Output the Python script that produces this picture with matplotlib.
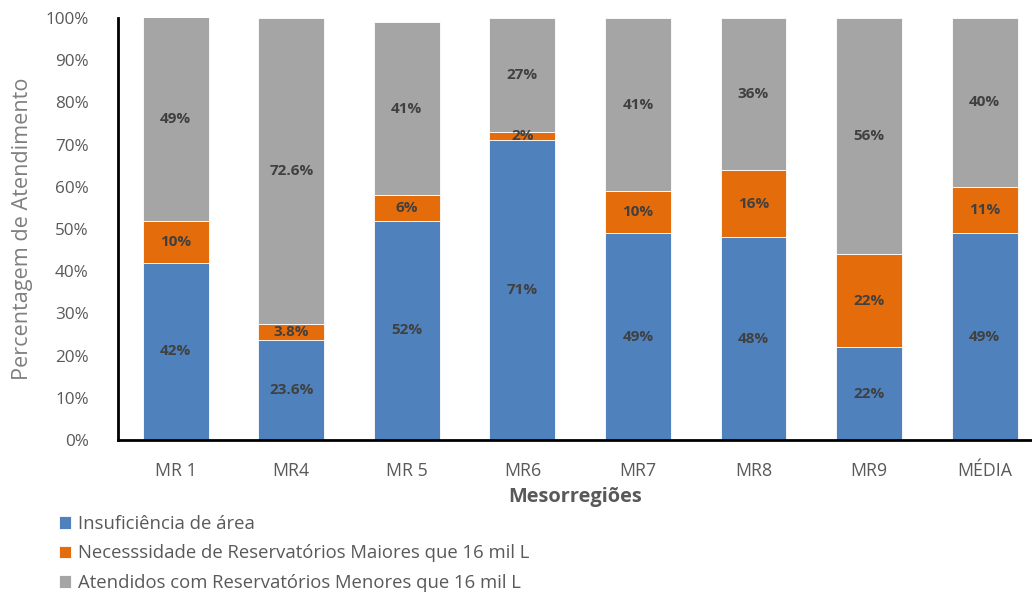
import numpy as np
import matplotlib.pyplot as plt
from matplotlib.ticker import PercentFormatter

plt.rcParams['font.family'] = ['Open Sans', 'DejaVu Sans']

regioes = ['MR 1', 'MR4', 'MR 5', 'MR6', 'MR7', 'MR8', 'MR9', 'MÉDIA']
insuficiencia = [42, 23.6, 52, 71, 49, 48, 22, 49]
maiores_16mil = [10, 3.8, 6, 2, 10, 16, 22, 11]
menores_16mil = [49, 72.6, 41, 27, 41, 36, 56, 40]
rotulos_ins = ['42%', '23.6%', '52%', '71%', '49%', '48%', '22%', '49%']
rotulos_mai = ['10%', '3.8%', '6%', '2%', '10%', '16%', '22%', '11%']
rotulos_men = ['49%', '72.6%', '41%', '27%', '41%', '36%', '56%', '40%']

series = [
    ('Insuficiência de área', insuficiencia, rotulos_ins, '#4F81BD'),
    ('Necesssidade de Reservatórios Maiores que 16 mil L', maiores_16mil, rotulos_mai, '#E46C0A'),
    ('Atendidos com Reservatórios Menores que 16 mil L', menores_16mil, rotulos_men, '#A5A5A5'),
]

fig = plt.figure(figsize=(10.32, 5.95), dpi=100)
ax = fig.add_axes([0.1143, 0.2605, 0.8857, 0.7092])

x = np.arange(len(regioes))
base = np.zeros(len(regioes))
for nome, vals, rotulos, cor in series:
    vals = np.array(vals) / 100
    ax.bar(x, vals, 0.57, bottom=base, color=cor, edgecolor='white',
           linewidth=0.6, label=nome)
    topo = np.minimum(base + vals, 1.0)
    for xi, b, t, r in zip(x, base, topo, rotulos):
        ax.text(xi, (b + t) / 2, r, ha='center', va='center',
                fontsize=11, fontweight='bold', color='#404040')
    base = base + vals

ax.set_ylim(0, 1)
ax.set_xlim(-0.5, 7.41)
ax.yaxis.set_major_locator(plt.MultipleLocator(0.1))
ax.yaxis.set_major_formatter(PercentFormatter(1.0, decimals=0))
ax.set_xticks(x)
ax.set_xticklabels(regioes)
ax.tick_params(axis='y', length=0, labelsize=12.3, colors='#595959', pad=21)
ax.tick_params(axis='x', length=0, labelsize=12.8, colors='#595959', pad=16)

for lado in ['top', 'right']:
    ax.spines[lado].set_visible(False)
for lado in ['left', 'bottom']:
    ax.spines[lado].set_color('black')
    ax.spines[lado].set_linewidth(2)

ax.set_ylabel('Percentagem de Atendimento', fontsize=15.6, color='#7F7F7F', labelpad=9)
ax.set_xlabel('Mesorregiões', fontsize=14.4, fontweight='bold', color='#595959', labelpad=5)

fig.legend(loc='upper left', bbox_to_anchor=(0.05, 0.147), frameon=False,
           fontsize=13.3, labelcolor='#595959', handlelength=0.65, handleheight=0.65,
           handletextpad=0.4, labelspacing=0.62, borderaxespad=0)

fig.savefig('out.png', dpi=100)
